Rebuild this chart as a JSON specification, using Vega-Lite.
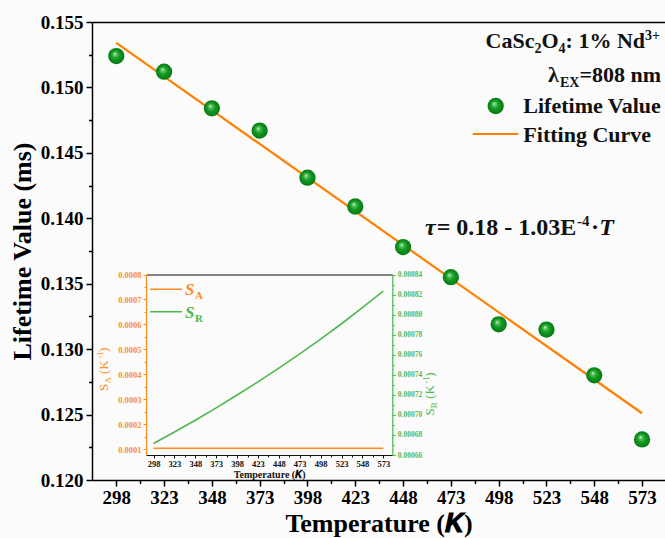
{
  "$schema": "https://vega.github.io/schema/vega-lite/v6.json",
  "width": 573,
  "height": 458,
  "autosize": {"type": "none"},
  "padding": {"left": 92, "top": 22, "right": 0, "bottom": 58},
  "background": "#fbfbfb",
  "config": {
    "font": "Liberation Serif",
    "view": {"stroke": null},
    "axis": {"grid": false, "labelOverlap": false, "labelFlush": false}
  },
  "datasets": {
    "fit": [
      {"T": 298, "tau": 0.1534},
      {"T": 573, "tau": 0.1251}
    ],
    "lifetime": [
      {"T": 298, "tau": 0.1524},
      {"T": 323, "tau": 0.1512},
      {"T": 348, "tau": 0.1484},
      {"T": 373, "tau": 0.1467},
      {"T": 398, "tau": 0.1431},
      {"T": 423, "tau": 0.1409},
      {"T": 448, "tau": 0.1378},
      {"T": 473, "tau": 0.1355},
      {"T": 498, "tau": 0.1319},
      {"T": 523, "tau": 0.1315},
      {"T": 548, "tau": 0.1280},
      {"T": 573, "tau": 0.1231}
    ],
    "legend_ball": [{"x": 496.45, "y": 0.14858}],
    "legend_line": [{"x": 484.4, "x2": 508.3, "y": 0.14644}],
    "label_main": [
      {"x": 491.17, "y": 0.15301, "t": "CaSc"},
      {"x": 520.41, "y": 0.15301, "t": "O"},
      {"x": 533.01, "y": 0.15301, "t": ": 1% Nd"},
      {"x": 523.8, "y": 0.150438, "t": "λ"},
      {"x": 540.23, "y": 0.150438, "t": "=808 nm"},
      {"x": 510.9, "y": 0.148023, "t": "Lifetime Value"},
      {"x": 510.9, "y": 0.145853, "t": "Fitting Curve"}
    ],
    "label_sub": [
      {"x": 516.75, "y": 0.15301, "t": "2"},
      {"x": 529.35, "y": 0.15301, "t": "4"},
      {"x": 530.08, "y": 0.150438, "t": "EX"}
    ],
    "label_sup": [
      {"x": 574.54, "y": 0.15301, "t": "3+"}
    ],
    "eq_main": [
      {"x": 465.59, "y": 0.138723, "t": "= 0.18 - 1.03E"},
      {"x": 546.3, "y": 0.138723, "t": "·"}
    ],
    "eq_italic": [
      {"x": 459.47, "y": 0.138723, "t": "τ"},
      {"x": 550.6, "y": 0.138723, "t": "T"}
    ],
    "eq_sup": [
      {"x": 538.97, "y": 0.138723, "t": "-4"}
    ],
    "ytitle_main": [
      {"k": "A", "x": 293.67, "y": 0.126807, "t": "S"},
      {"k": "A", "x": 293.67, "y": 0.128092, "t": "(K"},
      {"k": "A", "x": 293.67, "y": 0.129781, "t": ")"},
      {"k": "R", "x": 464.18, "y": 0.124921, "t": "S"},
      {"k": "R", "x": 464.18, "y": 0.126205, "t": "(K"},
      {"k": "R", "x": 464.18, "y": 0.127894, "t": ")"}
    ],
    "ytitle_sub": [
      {"k": "A", "x": 295.34, "y": 0.12737, "t": "A"},
      {"k": "R", "x": 465.85, "y": 0.125483, "t": "R"}
    ],
    "ytitle_sup": [
      {"k": "A", "x": 290.95, "y": 0.129238, "t": "-1"},
      {"k": "R", "x": 461.46, "y": 0.127351, "t": "-1"}
    ],
    "sa": [
      {"T": 298, "s": 0.000103},
      {"T": 573, "s": 0.000103}
    ],
    "sr": [
      {"T": 298, "s": 0.0006714},
      {"T": 323, "s": 0.0006829},
      {"T": 348, "s": 0.0006947},
      {"T": 373, "s": 0.0007070},
      {"T": 398, "s": 0.0007198},
      {"T": 423, "s": 0.0007329},
      {"T": 448, "s": 0.0007466},
      {"T": 473, "s": 0.0007608},
      {"T": 498, "s": 0.0007756},
      {"T": 523, "s": 0.0007909},
      {"T": 548, "s": 0.0008069},
      {"T": 573, "s": 0.0008235}
    ],
    "inset_key_line": [
      {"k": "A", "x": 293.8, "x2": 332.1, "y": 0.0007406},
      {"k": "R", "x": 293.8, "x2": 332.1, "y": 0.0006508}
    ],
    "inset_key_s": [
      {"k": "A", "x": 335.7, "y": 0.0007178, "t": "S"},
      {"k": "R", "x": 335.7, "y": 0.0006255, "t": "S"}
    ],
    "inset_key_sub": [
      {"k": "A", "x": 347.6, "y": 0.0007178, "t": "A"},
      {"k": "R", "x": 347.6, "y": 0.0006255, "t": "R"}
    ]
  },
  "layer": [
    {
      "layer": [
        {
          "data": {"name": "fit"},
          "mark": {"type": "line", "color": "#FF8000", "strokeWidth": 2.2},
          "encoding": {
            "x": {"field": "T", "type": "quantitative",
              "scale": {"domain": [285.3, 585], "nice": false, "zero": false},
              "axis": {"orient": "bottom", "values": [298, 323, 348, 373, 398, 423, 448, 473, 498, 523, 548, 573], "format": "d",
                "title": "Temperature (𝑲)", "labelFontSize": 19, "labelFontWeight": "bold", "labelColor": "#000", "labelPadding": 2,
                "tickSize": 6, "tickWidth": 1.5, "tickColor": "#000", "domainColor": "#000", "domainWidth": 1.5,
                "titleFontSize": 26, "titleFontWeight": "bold", "titleColor": "#000", "titlePadding": 3}},
            "y": {"field": "tau", "type": "quantitative",
              "scale": {"domain": [0.12, 0.155], "nice": false, "zero": false},
              "axis": {"orient": "left", "values": [0.12, 0.125, 0.13, 0.135, 0.14, 0.145, 0.15, 0.155], "format": ".3f",
                "title": "Lifetime Value (ms)", "labelFontSize": 19, "labelFontWeight": "bold", "labelColor": "#000", "labelPadding": 3,
                "tickSize": 6, "tickWidth": 1.5, "tickColor": "#000", "domainColor": "#000", "domainWidth": 1.5,
                "titleFontSize": 26, "titleFontWeight": "bold", "titleColor": "#000", "titlePadding": 5}}
          }
        },
        {
          "data": {"name": "fit"},
          "mark": {"type": "line", "strokeOpacity": 0},
          "encoding": {
            "x": {"field": "T", "type": "quantitative",
              "scale": {"domain": [285.3, 585], "nice": false, "zero": false},
              "axis": {"orient": "bottom", "values": [310.5, 335.5, 360.5, 385.5, 410.5, 435.5, 460.5, 485.5, 510.5, 535.5, 560.5],
                "labels": false, "domain": false, "title": null, "tickSize": 3.5, "tickWidth": 1.5, "tickColor": "#000"}},
            "y": {"field": "tau", "type": "quantitative",
              "scale": {"domain": [0.12, 0.155], "nice": false, "zero": false},
              "axis": {"orient": "left", "values": [0.1225, 0.1275, 0.1325, 0.1375, 0.1425, 0.1475, 0.1525],
                "labels": false, "domain": false, "title": null, "tickSize": 3.5, "tickWidth": 1.5, "tickColor": "#000"}}
          }
        },
        {
          "data": {"name": "fit"},
          "mark": {"type": "line", "strokeOpacity": 0},
          "encoding": {
            "x": {"field": "T", "type": "quantitative",
              "scale": {"domain": [285.3, 585], "nice": false, "zero": false},
              "axis": {"orient": "top", "ticks": false, "labels": false, "title": null, "domainColor": "#000", "domainWidth": 1.5}},
            "y": {"field": "tau", "type": "quantitative",
              "scale": {"domain": [0.12, 0.155], "nice": false, "zero": false}, "axis": null}
          }
        },
        {
          "data": {"name": "lifetime"},
          "mark": {"type": "point", "filled": true, "opacity": 1, "size": 265, "strokeWidth": 0,
            "fill": {"gradient": "radial", "x1": 0.4, "y1": 0.36, "r1": 0, "x2": 0.5, "y2": 0.5, "r2": 0.52,
              "stops": [{"offset": 0, "color": "#f2fbf2"}, {"offset": 0.18, "color": "#5cc463"}, {"offset": 0.5, "color": "#139a22"}, {"offset": 1, "color": "#067512"}]}},
          "encoding": {
            "x": {"field": "T", "type": "quantitative", "scale": {"domain": [285.3, 585], "nice": false, "zero": false}, "axis": null},
            "y": {"field": "tau", "type": "quantitative", "scale": {"domain": [0.12, 0.155], "nice": false, "zero": false}, "axis": null}
          }
        },
        {
          "data": {"name": "legend_ball"},
          "mark": {"type": "point", "filled": true, "opacity": 1, "size": 265, "strokeWidth": 0,
            "fill": {"gradient": "radial", "x1": 0.4, "y1": 0.36, "r1": 0, "x2": 0.5, "y2": 0.5, "r2": 0.52,
              "stops": [{"offset": 0, "color": "#f2fbf2"}, {"offset": 0.18, "color": "#5cc463"}, {"offset": 0.5, "color": "#139a22"}, {"offset": 1, "color": "#067512"}]}},
          "encoding": {
            "x": {"field": "x", "type": "quantitative", "scale": {"domain": [285.3, 585], "nice": false, "zero": false}, "axis": null},
            "y": {"field": "y", "type": "quantitative", "scale": {"domain": [0.12, 0.155], "nice": false, "zero": false}, "axis": null}
          }
        },
        {
          "data": {"name": "legend_line"},
          "mark": {"type": "rule", "color": "#FF8000", "strokeWidth": 2.2},
          "encoding": {
            "x": {"field": "x", "type": "quantitative", "scale": {"domain": [285.3, 585], "nice": false, "zero": false}, "axis": null},
            "x2": {"field": "x2"},
            "y": {"field": "y", "type": "quantitative", "scale": {"domain": [0.12, 0.155], "nice": false, "zero": false}, "axis": null}
          }
        },
        {
          "data": {"name": "label_main"},
          "mark": {"type": "text", "align": "left", "baseline": "alphabetic", "fontSize": 22, "fontWeight": "bold", "color": "#111"},
          "encoding": {
            "x": {"field": "x", "type": "quantitative", "scale": {"domain": [285.3, 585], "nice": false, "zero": false}, "axis": null},
            "y": {"field": "y", "type": "quantitative", "scale": {"domain": [0.12, 0.155], "nice": false, "zero": false}, "axis": null},
            "text": {"field": "t"}
          }
        },
        {
          "data": {"name": "label_sub"},
          "mark": {"type": "text", "align": "left", "baseline": "alphabetic", "fontSize": 14, "fontWeight": "bold", "color": "#111", "dy": 5},
          "encoding": {
            "x": {"field": "x", "type": "quantitative", "scale": {"domain": [285.3, 585], "nice": false, "zero": false}, "axis": null},
            "y": {"field": "y", "type": "quantitative", "scale": {"domain": [0.12, 0.155], "nice": false, "zero": false}, "axis": null},
            "text": {"field": "t"}
          }
        },
        {
          "data": {"name": "label_sup"},
          "mark": {"type": "text", "align": "left", "baseline": "alphabetic", "fontSize": 14, "fontWeight": "bold", "color": "#111", "dy": -8},
          "encoding": {
            "x": {"field": "x", "type": "quantitative", "scale": {"domain": [285.3, 585], "nice": false, "zero": false}, "axis": null},
            "y": {"field": "y", "type": "quantitative", "scale": {"domain": [0.12, 0.155], "nice": false, "zero": false}, "axis": null},
            "text": {"field": "t"}
          }
        },
        {
          "data": {"name": "eq_main"},
          "mark": {"type": "text", "align": "left", "baseline": "alphabetic", "fontSize": 24, "fontWeight": "bold", "color": "#111"},
          "encoding": {
            "x": {"field": "x", "type": "quantitative", "scale": {"domain": [285.3, 585], "nice": false, "zero": false}, "axis": null},
            "y": {"field": "y", "type": "quantitative", "scale": {"domain": [0.12, 0.155], "nice": false, "zero": false}, "axis": null},
            "text": {"field": "t"}
          }
        },
        {
          "data": {"name": "eq_italic"},
          "mark": {"type": "text", "align": "left", "baseline": "alphabetic", "fontSize": 24, "fontWeight": "bold", "fontStyle": "italic", "color": "#111"},
          "encoding": {
            "x": {"field": "x", "type": "quantitative", "scale": {"domain": [285.3, 585], "nice": false, "zero": false}, "axis": null},
            "y": {"field": "y", "type": "quantitative", "scale": {"domain": [0.12, 0.155], "nice": false, "zero": false}, "axis": null},
            "text": {"field": "t"}
          }
        },
        {
          "data": {"name": "eq_sup"},
          "mark": {"type": "text", "align": "left", "baseline": "alphabetic", "fontSize": 15, "fontWeight": "bold", "color": "#111", "dy": -9},
          "encoding": {
            "x": {"field": "x", "type": "quantitative", "scale": {"domain": [285.3, 585], "nice": false, "zero": false}, "axis": null},
            "y": {"field": "y", "type": "quantitative", "scale": {"domain": [0.12, 0.155], "nice": false, "zero": false}, "axis": null},
            "text": {"field": "t"}
          }
        },
        {
          "data": {"name": "ytitle_main"},
          "mark": {"type": "text", "align": "left", "baseline": "alphabetic", "angle": 270, "fontSize": 13},
          "encoding": {
            "x": {"field": "x", "type": "quantitative", "scale": {"domain": [285.3, 585], "nice": false, "zero": false}, "axis": null},
            "y": {"field": "y", "type": "quantitative", "scale": {"domain": [0.12, 0.155], "nice": false, "zero": false}, "axis": null},
            "text": {"field": "t"},
            "color": {"field": "k", "type": "nominal", "scale": {"domain": ["A", "R"], "range": ["#F7931E", "#55B855"]}, "legend": null}
          }
        },
        {
          "data": {"name": "ytitle_sub"},
          "mark": {"type": "text", "align": "left", "baseline": "alphabetic", "angle": 270, "fontSize": 9},
          "encoding": {
            "x": {"field": "x", "type": "quantitative", "scale": {"domain": [285.3, 585], "nice": false, "zero": false}, "axis": null},
            "y": {"field": "y", "type": "quantitative", "scale": {"domain": [0.12, 0.155], "nice": false, "zero": false}, "axis": null},
            "text": {"field": "t"},
            "color": {"field": "k", "type": "nominal", "scale": {"domain": ["A", "R"], "range": ["#F7931E", "#55B855"]}, "legend": null}
          }
        },
        {
          "data": {"name": "ytitle_sup"},
          "mark": {"type": "text", "align": "left", "baseline": "alphabetic", "angle": 270, "fontSize": 9},
          "encoding": {
            "x": {"field": "x", "type": "quantitative", "scale": {"domain": [285.3, 585], "nice": false, "zero": false}, "axis": null},
            "y": {"field": "y", "type": "quantitative", "scale": {"domain": [0.12, 0.155], "nice": false, "zero": false}, "axis": null},
            "text": {"field": "t"},
            "color": {"field": "k", "type": "nominal", "scale": {"domain": ["A", "R"], "range": ["#F7931E", "#55B855"]}, "legend": null}
          }
        }
      ],
      "resolve": {"axis": {"x": "independent", "y": "independent"}}
    },
    {
      "layer": [
        {
          "layer": [
            {
              "data": {"name": "sa"},
              "mark": {"type": "line", "color": "#FF8A1E", "strokeWidth": 1.6},
              "encoding": {
                "x": {"field": "T", "type": "quantitative",
                  "scale": {"domain": [289, 583.8], "range": [54, 300.3], "nice": false, "zero": false},
                  "axis": {"orient": "bottom", "offset": -25, "zindex": 1, "values": [298, 323, 348, 373, 398, 423, 448, 473, 498, 523, 548, 573], "format": "d",
                    "title": "Temperature (𝑲)", "titleFontSize": 10, "titleFontWeight": "bold", "titleColor": "#111", "titlePadding": 2,
                    "labelFontSize": 8.5, "labelFontWeight": "bold", "labelColor": "#111", "labelPadding": 1,
                    "tickSize": 3, "tickWidth": 1, "tickColor": "#111", "domainColor": "#111", "domainWidth": 1.2}},
                "y": {"field": "s", "type": "quantitative",
                  "scale": {"domain": [0.000076, 0.0008], "range": [433, 252.5], "nice": false, "zero": false},
                  "axis": {"orient": "left", "offset": -54, "zindex": 1, "values": [0.0001, 0.0002, 0.0003, 0.0004, 0.0005, 0.0006, 0.0007, 0.0008], "format": ".4f",
                    "title": null, "labelFontSize": 8.5, "labelFontWeight": "bold", "labelColor": "#F7931E", "labelPadding": 2,
                    "tickSize": 3, "tickWidth": 1, "tickColor": "#FF8A1E", "domainColor": "#FF8A1E", "domainWidth": 1.2}}
              }
            },
            {
              "data": {"name": "sa"},
              "mark": {"type": "line", "strokeOpacity": 0},
              "encoding": {
                "x": {"field": "T", "type": "quantitative",
                  "scale": {"domain": [289, 583.8], "range": [54, 300.3], "nice": false, "zero": false},
                  "axis": {"orient": "bottom", "offset": -25, "zindex": 1, "values": [310.5, 335.5, 360.5, 385.5, 410.5, 435.5, 460.5, 485.5, 510.5, 535.5, 560.5],
                    "labels": false, "domain": false, "title": null, "tickSize": 2, "tickWidth": 1, "tickColor": "#111"}},
                "y": {"field": "s", "type": "quantitative",
                  "scale": {"domain": [0.000076, 0.0008], "range": [433, 252.5], "nice": false, "zero": false},
                  "axis": {"orient": "left", "offset": -54, "zindex": 1, "values": [0.00015, 0.00025, 0.00035, 0.00045, 0.00055, 0.00065, 0.00075],
                    "labels": false, "domain": false, "title": null, "tickSize": 2, "tickWidth": 1, "tickColor": "#FF8A1E"}}
              }
            },
            {
              "data": {"name": "sa"},
              "mark": {"type": "line", "strokeOpacity": 0},
              "encoding": {
                "x": {"field": "T", "type": "quantitative",
                  "scale": {"domain": [289, 583.8], "range": [54, 300.3], "nice": false, "zero": false},
                  "axis": {"orient": "top", "offset": -252.5, "ticks": false, "labels": false, "title": null, "domainColor": "#111", "domainWidth": 1.2}},
                "y": {"field": "s", "type": "quantitative",
                  "scale": {"domain": [0.000076, 0.0008], "range": [433, 252.5], "nice": false, "zero": false}, "axis": null}
              }
            },
            {
              "data": {"name": "inset_key_line"},
              "mark": {"type": "rule", "strokeWidth": 1.6},
              "encoding": {
                "x": {"field": "x", "type": "quantitative", "scale": {"domain": [289, 583.8], "range": [54, 300.3], "nice": false, "zero": false}, "axis": null},
                "x2": {"field": "x2"},
                "y": {"field": "y", "type": "quantitative", "scale": {"domain": [0.000076, 0.0008], "range": [433, 252.5], "nice": false, "zero": false}, "axis": null},
                "color": {"field": "k", "type": "nominal", "scale": {"domain": ["A", "R"], "range": ["#FF8A1E", "#4DB84D"]}, "legend": null}
              }
            },
            {
              "data": {"name": "inset_key_s"},
              "mark": {"type": "text", "align": "left", "baseline": "alphabetic", "fontSize": 17, "fontWeight": "bold", "fontStyle": "italic"},
              "encoding": {
                "x": {"field": "x", "type": "quantitative", "scale": {"domain": [289, 583.8], "range": [54, 300.3], "nice": false, "zero": false}, "axis": null},
                "y": {"field": "y", "type": "quantitative", "scale": {"domain": [0.000076, 0.0008], "range": [433, 252.5], "nice": false, "zero": false}, "axis": null},
                "text": {"field": "t"},
                "color": {"field": "k", "type": "nominal", "scale": {"domain": ["A", "R"], "range": ["#FF8A1E", "#4DB84D"]}, "legend": null}
              }
            },
            {
              "data": {"name": "inset_key_sub"},
              "mark": {"type": "text", "align": "left", "baseline": "alphabetic", "fontSize": 11, "fontWeight": "bold", "dy": 4},
              "encoding": {
                "x": {"field": "x", "type": "quantitative", "scale": {"domain": [289, 583.8], "range": [54, 300.3], "nice": false, "zero": false}, "axis": null},
                "y": {"field": "y", "type": "quantitative", "scale": {"domain": [0.000076, 0.0008], "range": [433, 252.5], "nice": false, "zero": false}, "axis": null},
                "text": {"field": "t"},
                "color": {"field": "k", "type": "nominal", "scale": {"domain": ["A", "R"], "range": ["#FF8A1E", "#4DB84D"]}, "legend": null}
              }
            }
          ],
          "resolve": {"axis": {"x": "independent", "y": "independent"}}
        },
        {
          "layer": [
            {
              "data": {"name": "sr"},
              "mark": {"type": "line", "color": "#4DB84D", "strokeWidth": 1.6},
              "encoding": {
                "x": {"field": "T", "type": "quantitative",
                  "scale": {"domain": [289, 583.8], "range": [54, 300.3], "nice": false, "zero": false}, "axis": null},
                "y": {"field": "s", "type": "quantitative",
                  "scale": {"domain": [0.00066, 0.00084], "range": [433, 252.5], "nice": false, "zero": false},
                  "axis": {"orient": "right", "offset": -272.7, "zindex": 1, "values": [0.00066, 0.00068, 0.0007, 0.00072, 0.00074, 0.00076, 0.00078, 0.0008, 0.00082, 0.00084], "format": ".5f",
                    "title": null, "labelFontSize": 7.5, "labelFontWeight": "bold", "labelColor": "#55B855", "labelPadding": 2,
                    "tickSize": 3, "tickWidth": 1, "tickColor": "#4DB84D", "domainColor": "#4DB84D", "domainWidth": 1.2}}
              }
            },
            {
              "data": {"name": "sr"},
              "mark": {"type": "line", "strokeOpacity": 0},
              "encoding": {
                "x": {"field": "T", "type": "quantitative",
                  "scale": {"domain": [289, 583.8], "range": [54, 300.3], "nice": false, "zero": false}, "axis": null},
                "y": {"field": "s", "type": "quantitative",
                  "scale": {"domain": [0.00066, 0.00084], "range": [433, 252.5], "nice": false, "zero": false},
                  "axis": {"orient": "right", "offset": -272.7, "zindex": 1, "values": [0.00067, 0.00069, 0.00071, 0.00073, 0.00075, 0.00077, 0.00079, 0.00081, 0.00083],
                    "labels": false, "domain": false, "title": null, "tickSize": 2, "tickWidth": 1, "tickColor": "#4DB84D"}}
              }
            }
          ],
          "resolve": {"axis": {"y": "independent"}}
        }
      ],
      "resolve": {"scale": {"y": "independent"}, "axis": {"x": "independent", "y": "independent"}}
    }
  ],
  "resolve": {"scale": {"x": "independent", "y": "independent", "color": "independent"}, "axis": {"x": "independent", "y": "independent"}}
}
